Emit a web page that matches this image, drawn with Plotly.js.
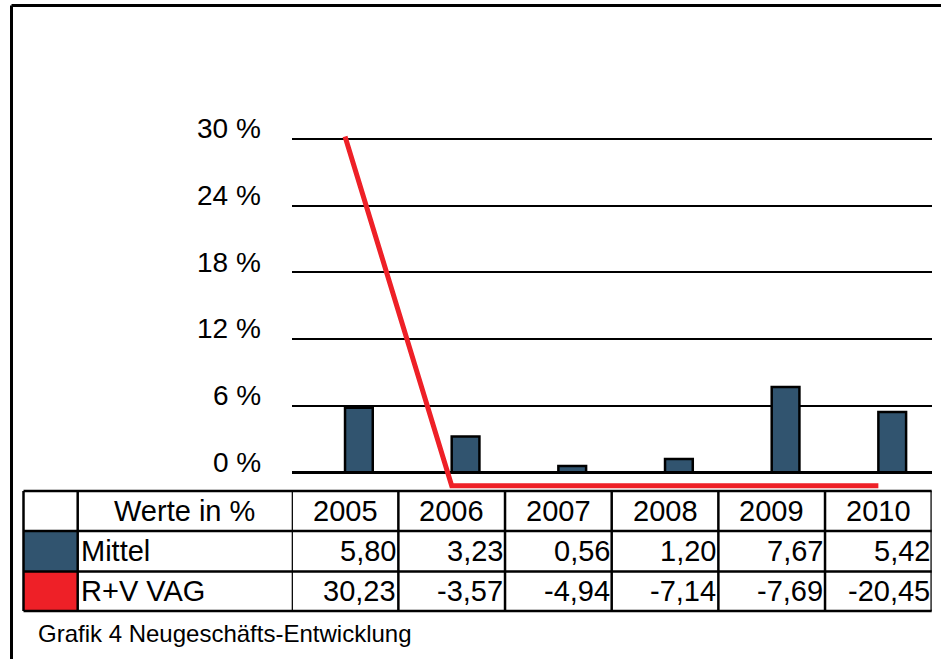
<!DOCTYPE html>
<html><head><meta charset="utf-8">
<script src="https://cdn.plot.ly/plotly-3.0.1.min.js"></script>
<style>body{margin:0;background:#fff}#chart{width:941px;height:659px}</style>
</head><body><div id="chart"></div>
<script>
const years = ['2005','2006','2007','2008','2009','2010'];
const mittel = [5.80, 3.23, 0.56, 1.20, 7.67, 5.42];
const rvVag = [30.23, -3.57, -4.94, -7.14, -7.69, -20.45];
const seriesNames = ['Mittel', 'R+V VAG'];
const headerLabel = 'Werte in %';
const caption = 'Grafik 4 Neugeschäfts-Entwicklung';
const yTicks = [0, 6, 12, 18, 24, 30];
const yTickText = ['0 %', '6 %', '12 %', '18 %', '24 %', '30 %'];

const W = 941, H = 659;
const px = p => p / W, py = p => 1 - p / H;
const Y_MIN = -1.5, Y_MAX = 33;
const FLOOR = -1.2; // the original chart pins values below the axis floor to it
const xIdx = years.map((_, i) => i);
const fmt = v => v.toFixed(2).replace('.', ',');
const BLUE = '#31546f', RED = '#ee2027';
const FONT = 'Liberation Sans, Arial, sans-serif';

// axis pixel geometry
const plotLeft = 291.7, plotRight = 931.7;
const zeroPx = 472.3, unitPx = 11.111;
const yBottomPx = zeroPx - Y_MIN * unitPx, yTopPx = zeroPx - Y_MAX * unitPx;

const traces = [
  {type: 'bar', x: xIdx, y: mittel, name: seriesNames[0], width: 0.26, offset: 0,
   marker: {color: BLUE, line: {color: '#000', width: 2.5}}, hoverinfo: 'skip'},
  {type: 'scatter', mode: 'lines', x: xIdx, y: rvVag.map(v => Math.max(v, FLOOR)),
   name: seriesNames[1], line: {color: RED, width: 5}, hoverinfo: 'skip'}
];

// table geometry
const tTop = 491, r1 = 531, r2 = 571.5, tBot = 611;
const tLeft = 23.5, keyRight = 77.7;
const shapes = [];
const annotations = [];
const blk = '#000';
// outer frame
shapes.push({type: 'line', xref: 'paper', yref: 'paper', x0: px(11.5), x1: px(941), y0: py(5.5), y1: py(5.5), line: {color: blk, width: 3}});
shapes.push({type: 'line', xref: 'paper', yref: 'paper', x0: px(11.5), x1: px(11.5), y0: py(5.5), y1: py(659), line: {color: blk, width: 3}});
// legend keys
shapes.push({type: 'rect', xref: 'paper', yref: 'paper', x0: px(tLeft), x1: px(keyRight), y0: py(r1), y1: py(r2), fillcolor: BLUE, line: {width: 0}});
shapes.push({type: 'rect', xref: 'paper', yref: 'paper', x0: px(tLeft), x1: px(keyRight), y0: py(r2), y1: py(tBot), fillcolor: RED, line: {width: 0}});
// horizontal table lines
[tTop, r1, r2, tBot].forEach(y => shapes.push({type: 'line', xref: 'paper', yref: 'paper', x0: px(tLeft), x1: px(plotRight), y0: py(y), y1: py(y), line: {color: blk, width: 2.5}}));
// vertical lines
[tLeft, keyRight].forEach(x => shapes.push({type: 'line', xref: 'paper', yref: 'paper', x0: px(x), x1: px(x), y0: py(tTop), y1: py(tBot), line: {color: blk, width: 2.5}}));
for (let k = 0; k <= years.length; k++) {
  shapes.push({type: 'line', xref: 'x', yref: 'paper', x0: k - 0.5, x1: k - 0.5, y0: py(tTop), y1: py(tBot), line: {color: blk, width: 2.5}});
}
// y tick labels sit just above their gridlines, as in the original
yTicks.forEach((v, i) => {
  annotations.push({xref: 'paper', yref: 'y', x: px(263), y: v, yshift: 10, text: yTickText[i], showarrow: false,
    xanchor: 'right', yanchor: 'middle', font: {family: FONT, size: 28, color: '#000'}});
});
const tf = {family: FONT, size: 29, color: '#000'};
annotations.push({xref: 'paper', yref: 'paper', x: px((keyRight + plotLeft) / 2), y: py((tTop + r1) / 2), text: headerLabel, showarrow: false, xanchor: 'center', yanchor: 'middle', font: tf});
annotations.push({xref: 'paper', yref: 'paper', x: px(keyRight + 1), y: py((r1 + r2) / 2), text: seriesNames[0], showarrow: false, xanchor: 'left', yanchor: 'middle', font: tf});
annotations.push({xref: 'paper', yref: 'paper', x: px(keyRight + 1), y: py((r2 + tBot) / 2), text: seriesNames[1], showarrow: false, xanchor: 'left', yanchor: 'middle', font: tf});
years.forEach((yr, i) => {
  annotations.push({xref: 'x', yref: 'paper', x: i, y: py((tTop + r1) / 2), text: yr, showarrow: false, xanchor: 'center', yanchor: 'middle', font: tf});
  annotations.push({xref: 'x', yref: 'paper', x: i + 0.5, xshift: 0, y: py((r1 + r2) / 2), text: fmt(mittel[i]), showarrow: false, xanchor: 'right', yanchor: 'middle', font: tf});
  annotations.push({xref: 'x', yref: 'paper', x: i + 0.5, xshift: 0, y: py((r2 + tBot) / 2), text: fmt(rvVag[i]), showarrow: false, xanchor: 'right', yanchor: 'middle', font: tf});
});
annotations.push({xref: 'paper', yref: 'paper', x: px(36), y: py(633), text: caption, showarrow: false, xanchor: 'left', yanchor: 'middle', font: {family: FONT, size: 24, color: '#000'}});

const layout = {
  width: W, height: H, margin: {l: 0, r: 0, t: 0, b: 0},
  paper_bgcolor: '#fff', plot_bgcolor: 'rgba(0,0,0,0)',
  showlegend: false,
  xaxis: {domain: [px(plotLeft), px(plotRight)], range: [-0.5, years.length - 0.5],
          showgrid: false, zeroline: false, showticklabels: false, showline: false, fixedrange: true},
  yaxis: {domain: [py(yBottomPx), py(yTopPx)], range: [Y_MIN, Y_MAX],
          tickmode: 'array', tickvals: yTicks, showticklabels: false,
          showgrid: true, gridcolor: '#000', gridwidth: 2,
          zeroline: true, zerolinecolor: '#000', zerolinewidth: 3, showline: false, ticks: '', fixedrange: true},
  shapes: shapes, annotations: annotations
};
Plotly.newPlot('chart', traces, layout, {staticPlot: true});
</script>
</body></html>
